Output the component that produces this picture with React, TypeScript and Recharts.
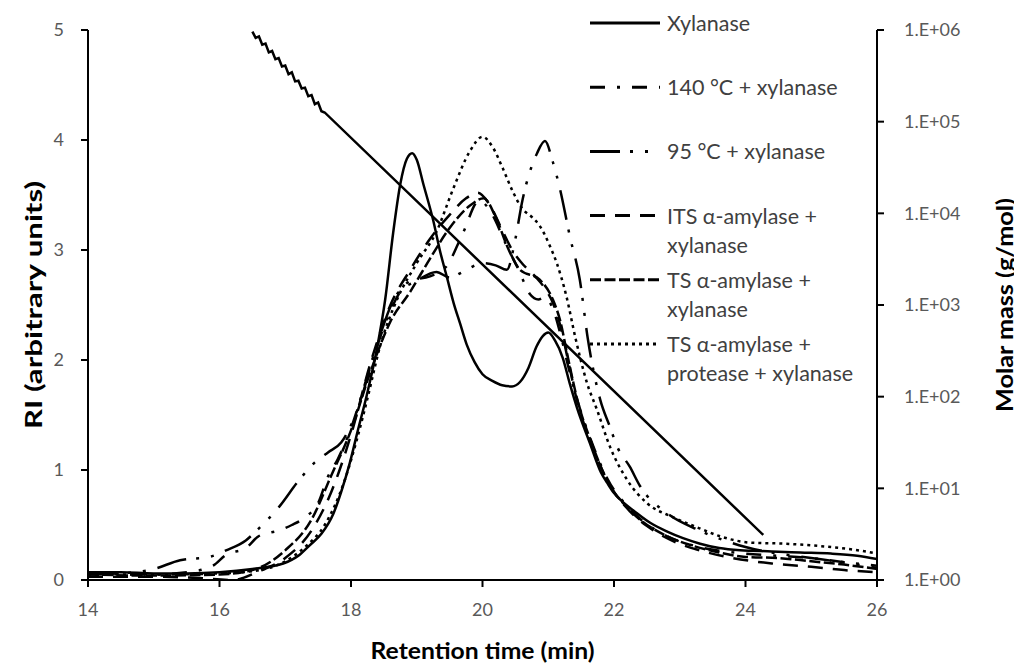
import React from 'react';
import { LineChart, Line, XAxis, YAxis, Legend } from 'recharts';

const FONT = 'Lato, "Open Sans", "DejaVu Sans", sans-serif';

// Axis ticks
const xTicks = [14, 16, 18, 20, 22, 24, 26];
const riTicks = [0, 1, 2, 3, 4, 5];
const massTicks = [1, 10, 100, 1000, 10000, 100000, 1000000];
const massTickLabels = ['1.E+00', '1.E+01', '1.E+02', '1.E+03', '1.E+04', '1.E+05', '1.E+06'];

// RI curves: [retention time (min), RI]
const xylanase: [number, number][] = [
  [14, 0.07], [14.5, 0.07], [15, 0.06], [15.5, 0.06], [16, 0.07], [16.5, 0.1], [16.97, 0.15], [17.2, 0.22],
  [17.38, 0.32], [17.55, 0.42], [17.73, 0.6], [17.85, 0.8], [17.98, 1.06], [18.1, 1.35], [18.24, 1.68],
  [18.4, 2.12], [18.52, 2.55], [18.64, 3.15], [18.75, 3.6], [18.85, 3.83], [18.93, 3.88], [19.0, 3.82],
  [19.1, 3.6], [19.25, 3.27], [19.35, 3.0], [19.46, 2.75], [19.56, 2.52], [19.66, 2.33], [19.76, 2.14],
  [19.88, 1.98], [20.0, 1.87], [20.15, 1.81], [20.3, 1.77], [20.45, 1.76], [20.57, 1.8], [20.7, 1.93],
  [20.82, 2.12], [20.92, 2.22], [21.0, 2.25], [21.1, 2.18], [21.22, 2.02], [21.33, 1.78], [21.44, 1.56],
  [21.63, 1.25], [21.8, 0.98], [21.9, 0.88], [22.0, 0.79], [22.15, 0.7], [22.3, 0.63], [22.55, 0.52],
  [22.81, 0.44], [23.05, 0.38], [23.31, 0.33], [23.6, 0.29], [23.92, 0.27], [24.4, 0.26], [24.83, 0.25],
  [25.3, 0.24], [25.7, 0.22], [26, 0.19],
];

const c140: [number, number][] = [
  [14, 0.06], [15, 0.05], [15.5, 0.07], [15.9, 0.13], [16.1, 0.23], [16.4, 0.29], [16.6, 0.4], [16.9, 0.45],
  [17.1, 0.5], [17.3, 0.57], [17.5, 0.7], [17.65, 0.94], [17.8, 1.1], [18.0, 1.38], [18.3, 1.95], [18.6, 2.45],
  [18.9, 2.72], [19.2, 2.76], [19.45, 2.85], [19.7, 3.15], [19.95, 3.45], [20.15, 3.32], [20.35, 3.06],
  [20.55, 2.82], [20.72, 2.6], [20.85, 2.55], [20.95, 2.57], [21.08, 2.45], [21.2, 2.2], [21.3, 1.95],
  [21.45, 1.62], [21.65, 1.27], [21.9, 0.92], [22.25, 0.64], [22.8, 0.4], [23.3, 0.3], [24.0, 0.24],
  [24.5, 0.22], [25.0, 0.2], [25.5, 0.16], [26, 0.11],
];

const c95: [number, number][] = [
  [14, 0.05], [14.5, 0.06], [15, 0.1], [15.4, 0.18], [15.85, 0.21], [16.1, 0.27], [16.4, 0.36], [16.6, 0.47],
  [16.9, 0.66], [17.2, 0.9], [17.45, 1.07], [17.65, 1.16], [17.85, 1.25], [18.1, 1.55], [18.4, 2.15],
  [18.7, 2.6], [19.0, 2.72], [19.3, 2.8], [19.5, 2.75], [19.7, 2.8], [20.0, 2.88], [20.2, 2.86], [20.37, 2.82],
  [20.5, 3.1], [20.6, 3.43], [20.83, 3.88], [20.95, 3.99], [21.07, 3.8], [21.18, 3.55], [21.33, 3.12],
  [21.48, 2.73], [21.6, 2.2], [21.79, 1.64], [21.94, 1.39], [22.05, 1.21], [22.24, 1.03], [22.4, 0.85],
  [22.8, 0.61], [23.3, 0.45], [24.0, 0.3], [25.0, 0.2], [26, 0.13],
];

const itsAmylase: [number, number][] = [
  [14, 0.03], [15, 0.03], [15.6, 0.02], [16.2, 0.0], [16.6, 0.08], [17.0, 0.2], [17.4, 0.45], [17.7, 0.8],
  [18.0, 1.32], [18.3, 1.98], [18.6, 2.5], [18.9, 2.82], [19.2, 3.1], [19.5, 3.32], [19.75, 3.47],
  [19.93, 3.52], [20.1, 3.42], [20.3, 3.18], [20.45, 3.0], [20.6, 2.88], [20.8, 2.76], [20.95, 2.65],
  [21.07, 2.52], [21.18, 2.32], [21.3, 2.0], [21.45, 1.6], [21.65, 1.25], [21.9, 0.9], [22.25, 0.62],
  [22.6, 0.45], [22.95, 0.34], [23.3, 0.27], [23.8, 0.2], [24.4, 0.15], [25.0, 0.12], [25.5, 0.09], [26, 0.07],
];

const tsAmylase: [number, number][] = [
  [14, 0.05], [15, 0.04], [16, 0.05], [16.5, 0.09], [17.0, 0.27], [17.4, 0.55], [17.7, 0.95], [18.0, 1.36],
  [18.3, 1.9], [18.6, 2.35], [18.9, 2.62], [19.2, 2.92], [19.5, 3.2], [19.8, 3.4], [20.02, 3.47], [20.2, 3.3],
  [20.4, 3.0], [20.57, 2.82], [20.87, 2.73], [21.07, 2.55], [21.18, 2.36], [21.3, 2.02], [21.45, 1.62],
  [21.65, 1.26], [21.9, 0.9], [22.25, 0.63], [22.8, 0.4], [23.1, 0.33], [23.6, 0.25], [24.0, 0.21],
  [24.5, 0.2], [25.0, 0.17], [25.5, 0.14], [26, 0.1],
];

const tsProtease: [number, number][] = [
  [14, 0.05], [15, 0.05], [16, 0.06], [16.5, 0.08], [17.0, 0.17], [17.3, 0.3], [17.6, 0.5], [17.9, 0.9],
  [18.1, 1.3], [18.25, 1.65], [18.44, 2.12], [18.7, 2.55], [19.0, 2.88], [19.31, 3.18], [19.55, 3.55],
  [19.81, 3.9], [20.0, 4.03], [20.16, 3.93], [20.31, 3.74], [20.47, 3.52], [20.6, 3.38], [20.75, 3.3],
  [20.87, 3.22], [21.03, 3.03], [21.13, 2.88], [21.28, 2.57], [21.41, 2.21], [21.59, 1.79], [21.74, 1.55],
  [21.94, 1.21], [22.2, 0.91], [22.5, 0.7], [22.9, 0.57], [23.3, 0.47], [23.6, 0.4], [24.07, 0.34],
  [24.6, 0.33], [25.1, 0.31], [25.6, 0.28], [26, 0.24],
];

// Molar mass calibration: [retention time (min), g/mol]
const molarMass: [number, number][] = [
  [16.5, 960000], [16.55, 820000], [16.6, 850000], [16.65, 690000], [16.7, 710000], [16.75, 570000],
  [16.8, 590000], [16.85, 480000], [16.9, 495000], [16.95, 400000], [17.0, 410000], [17.05, 330000],
  [17.1, 345000], [17.15, 275000], [17.2, 280000], [17.25, 230000], [17.3, 235000], [17.35, 190000],
  [17.4, 195000], [17.45, 155000], [17.5, 162000], [17.55, 130000], [17.6, 126000], [24.27, 3.1],
];

const seriesLabels: string[][] = [
  ['Xylanase'],
  ['140 °C + xylanase'],
  ['95 °C + xylanase'],
  ['ITS α-amylase +', 'xylanase'],
  ['TS α-amylase +', 'xylanase'],
  ['TS α-amylase +', 'protease + xylanase'],
];
const seriesData = [xylanase, c140, c95, itsAmylase, tsAmylase, tsProtease];
const seriesDash = ['', '15 12 3 12', '30 10 3 12 3 12', '15 10', '11 3.5', '3 4'];

const toPoints = (pairs: [number, number][]) => pairs.map(([t, v]) => ({ t, v }));

const tickStyle = { fill: '#595959', fontSize: 18, fontFamily: FONT };
const titleStyle = { fill: '#000', fontWeight: 700, fontFamily: FONT };

function LegendContent() {
  return (
    <svg width={320} height={390} style={{ display: 'block', overflow: 'visible' }}>
      {seriesLabels.map((lines, i) => {
        const y = 15 + i * 64.2;
        return (
          <g key={i}>
            <line x1={0} x2={70} y1={y} y2={y} stroke="#000" strokeWidth={3}
              strokeDasharray={seriesDash[i] || undefined} />
            {lines.map((t, j) => (
              <text key={j} x={77} y={y + j * 29} dominantBaseline="central" fontSize={21.5}
                fontFamily={FONT} fill="#404040">{t}</text>
            ))}
          </g>
        );
      })}
    </svg>
  );
}

const leftTitle = (props: any) => {
  const vb = props.viewBox;
  const cx = vb.x + 25;
  const cy = vb.y + vb.height / 2;
  return (
    <text x={cx} y={cy} transform={`rotate(-90 ${cx} ${cy})`} textAnchor="middle"
      dominantBaseline="central" fontSize={23.5} textLength={248} lengthAdjust="spacingAndGlyphs"
      style={titleStyle}>RI (arbitrary units)</text>
  );
};

const rightTitle = (props: any) => {
  const vb = props.viewBox;
  const cx = vb.x + 127;
  const cy = vb.y + vb.height / 2;
  return (
    <text x={cx} y={cy} transform={`rotate(-90 ${cx} ${cy})`} textAnchor="middle"
      dominantBaseline="central" fontSize={23.5} textLength={214} lengthAdjust="spacingAndGlyphs"
      style={titleStyle}>Molar mass (g/mol)</text>
  );
};

const bottomTitle = (props: any) => {
  const vb = props.viewBox;
  const cx = vb.x + vb.width / 2;
  const cy = vb.y + 70;
  return (
    <text x={cx} y={cy} textAnchor="middle" dominantBaseline="central" fontSize={23}
      textLength={224} lengthAdjust="spacingAndGlyphs" style={titleStyle}>
      Retention time (min)
    </text>
  );
};

export default function App() {
  return (
    <div style={{ width: 1014, height: 661, background: '#fff' }}>
      <LineChart width={1014} height={661} margin={{ top: 22, right: 0, bottom: 0, left: 0 }}>
        <XAxis type="number" dataKey="t" domain={[14, 26]} ticks={xTicks} allowDataOverflow
          height={89} tick={tickStyle} tickSize={7} tickMargin={16}
          axisLine={{ stroke: '#000', strokeWidth: 2 }} tickLine={{ stroke: '#000', strokeWidth: 2 }}
          label={{ content: bottomTitle }} />
        <YAxis yAxisId="ri" orientation="left" type="number" domain={[0, 5]} ticks={riTicks}
          allowDataOverflow width={80} tick={tickStyle} tickSize={7} tickMargin={17}
          axisLine={{ stroke: '#000', strokeWidth: 2 }} tickLine={{ stroke: '#000', strokeWidth: 2 }}
          label={{ content: leftTitle }} />
        <YAxis yAxisId="mass" orientation="right" type="number" scale="log" domain={[1, 1000000]}
          ticks={massTicks} allowDataOverflow width={145} tick={tickStyle} tickSize={7} tickMargin={20}
          tickFormatter={(v: number) => massTickLabels[massTicks.indexOf(v)] ?? String(v)}
          axisLine={{ stroke: '#000', strokeWidth: 2 }} tickLine={{ stroke: '#000', strokeWidth: 2 }}
          label={{ content: rightTitle }} />
        <Legend layout="vertical" align="center" verticalAlign="middle" content={LegendContent}
          wrapperStyle={{ position: 'absolute', left: 582, top: 0, width: 320, height: 390 }} />
        {seriesData.map((d, i) => (
          <Line key={i} yAxisId="ri" data={toPoints(d)} dataKey="v" name={seriesLabels[i].join(' ')}
            type="monotone" stroke="#000" strokeWidth={2.5} dot={false} activeDot={false}
            strokeDasharray={seriesDash[i] || undefined} isAnimationActive={false} legendType="none" />
        ))}
        <Line yAxisId="mass" data={toPoints(molarMass)} dataKey="v" name="Molar mass" type="linear"
          stroke="#000" strokeWidth={2.5} dot={false} activeDot={false} isAnimationActive={false}
          legendType="none" />
      </LineChart>
    </div>
  );
}
